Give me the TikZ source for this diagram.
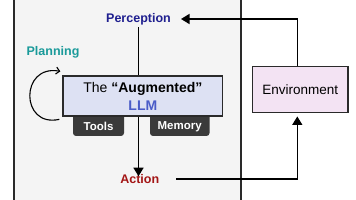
\documentclass[tikz,border=0pt]{standalone}
\usepackage{fontspec}
\setmainfont{Liberation Sans}
\usetikzlibrary{arrows.meta}
\definecolor{panelgray}{HTML}{F4F4F4}
\definecolor{linegray}{HTML}{2A2A2A}
\definecolor{percol}{HTML}{1F1F8F}
\definecolor{plancol}{HTML}{1A9A9A}
\definecolor{actcol}{HTML}{A31515}
\definecolor{llmcol}{HTML}{4A5CC8}
\definecolor{llmfill}{HTML}{DDE1F3}
\definecolor{envfill}{HTML}{F3E3F3}
\definecolor{tabfill}{HTML}{3A3A3A}
\begin{document}
\begin{tikzpicture}[x=1pt,y=-1pt,
  conn/.style={draw=black,line width=1.4pt},
  bigtip/.style={-{Triangle[length=8.5pt,width=10pt]}},
  label/.style={font=\fontsize{12.5}{14}\selectfont\bfseries,inner sep=0pt},
  boxstyle/.style={draw=linegray,line width=1.3pt,rectangle,inner sep=0pt},
  tabstyle/.style={fill=tabfill,rounded corners=3pt},
  tabtext/.style={font=\fontsize{11.5}{13}\selectfont\bfseries,text=white,inner sep=0pt}]
\useasboundingbox (0,0) rectangle (356,200);
% panel
\fill[panelgray] (14,-3) rectangle (241,203);
\draw[linegray,line width=1.2pt] (14,-3) -- (14,203);
\draw[linegray,line width=1.2pt] (241,-3) -- (241,203);
% tabs
\fill[tabstyle] (73,108) rectangle (124,136);
\fill[tabstyle] (150,108) rectangle (209.5,136);
\node[tabtext] (tools) at (98.5,126.5) {Tools};
\node[tabtext] (memory) at (179.7,126.5) {Memory};
% LLM box
\node[boxstyle,fill=llmfill,minimum width=159.7pt,minimum height=40pt,align=center,
  font=\fontsize{14}{19}\selectfont] (llm) at (142.85,96)
  {The \textbf{“Augmented”}\\[-1pt]\textcolor{llmcol}{\textbf{LLM}}};
% environment
\node[boxstyle,fill=envfill,minimum width=95.3pt,minimum height=45.6pt,
  font=\fontsize{13.5}{16}\selectfont] (env) at (300.35,89.5) {Environment};
% labels
\node[label,text=percol] (perception) at (138.5,19) {Perception};
\node[label,text=plancol] (planning) at (53,52) {Planning};
\node[label,text=actcol] (action) at (139.8,179) {Action};
\coordinate (envlink) at (297.3,0);
% connectors
\draw[conn] (perception |- perception.south) ++(0,2) -- (perception |- llm.north);
\draw[conn,bigtip] (perception |- llm.south) -- ([yshift=-2pt]perception |- action.north);
\draw[conn,bigtip] (envlink |- env.north) -- (envlink |- perception) -- ([xshift=10pt]perception.east);
\draw[conn,bigtip,shorten >=3.5pt] ([xshift=17pt]action.east) -- (action -| envlink) -- (envlink |- env.south);
\draw[line width=1.1pt,-{Straight Barb[length=3.5pt,width=7pt]}]
  ([shift={(-3,44)}]llm.north west) .. controls (20,128) and (20,64) .. ([shift={(-2,-4)}]llm.north west);
\end{tikzpicture}
\end{document}
